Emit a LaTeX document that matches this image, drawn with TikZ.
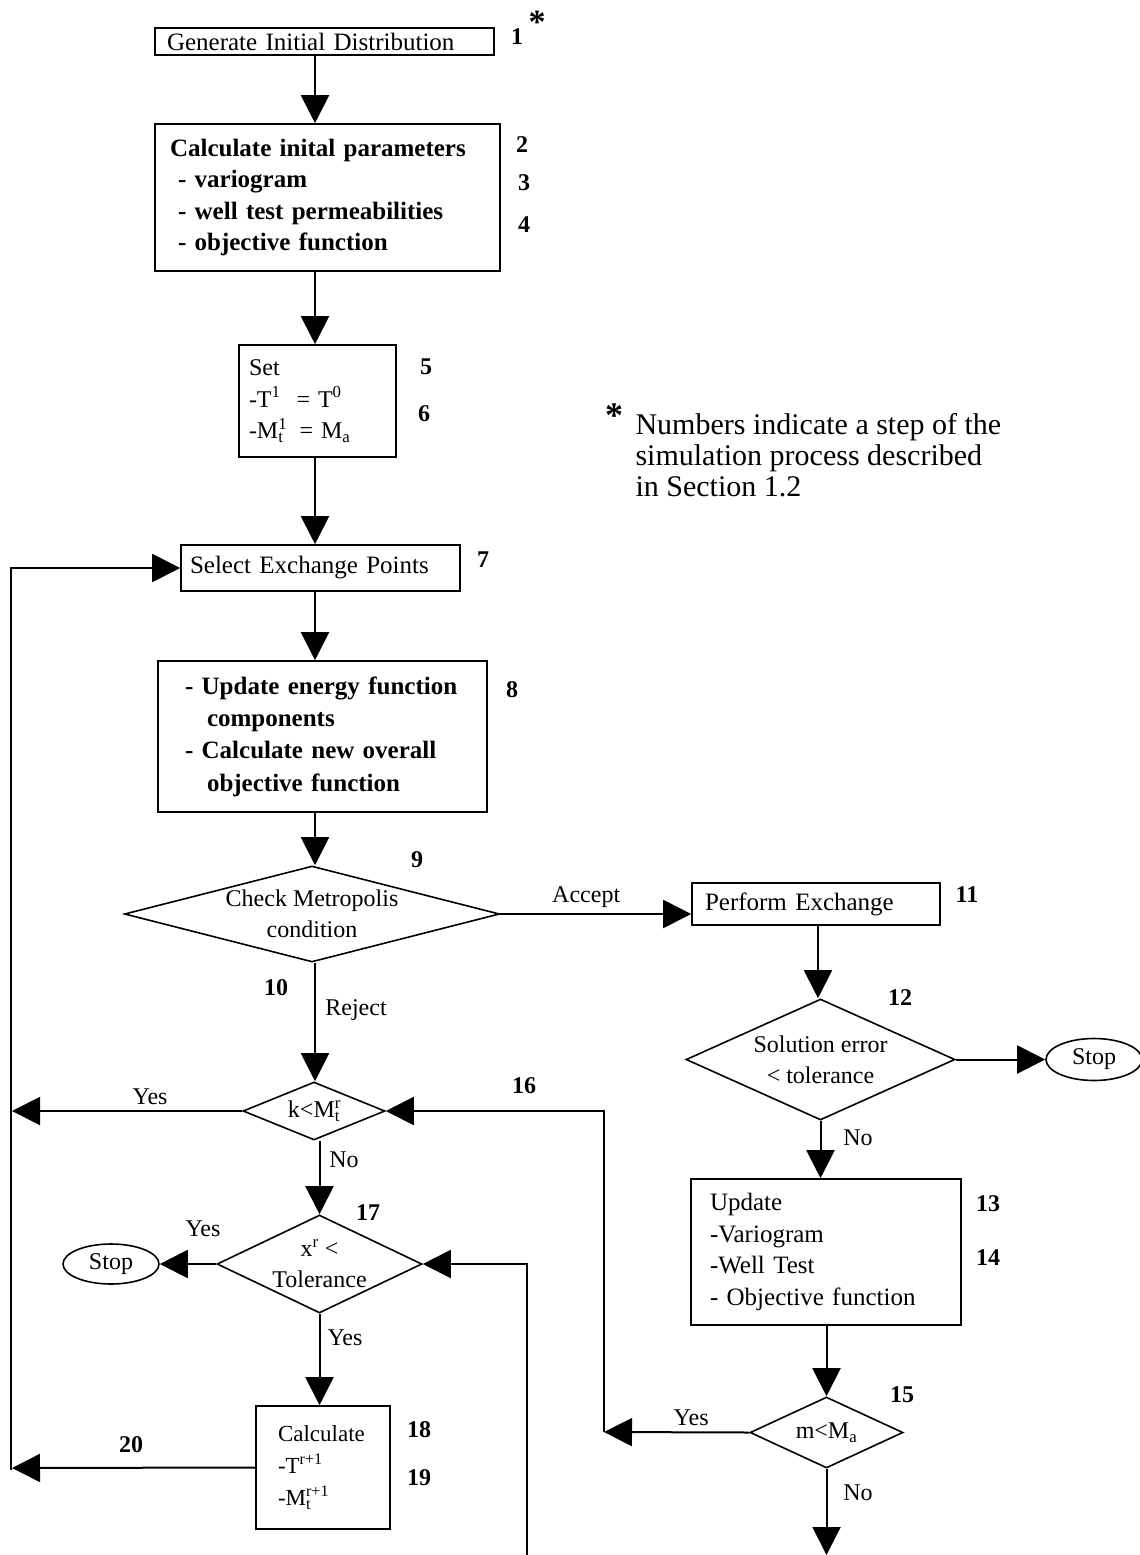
\documentclass[tikz,border=0pt]{standalone}
\usepackage{fontspec}
\setmainfont{Liberation Serif}
\usetikzlibrary{shapes.geometric,arrows.meta}
\newcommand\SupSub[2]{\rlap{\textsuperscript{#1}}\textsubscript{#2}}
\begin{document}
\begin{tikzpicture}[x=1pt,y=-1pt,
 every node/.style={font=\fontsize{25}{31}\selectfont},
 box/.style={draw,line width=1.6pt,rectangle,align=left,inner ysep=0pt},
 dia/.style={draw,line width=1.6pt,diamond,inner sep=0pt},
 oval/.style={draw,line width=1.6pt,ellipse,inner sep=0pt,font=\fontsize{24}{28}\selectfont},
 arr/.style={line width=2pt,-{Triangle[length=28pt,width=28pt]}},
 ln/.style={line width=2pt},
 num/.style={font=\fontsize{24}{28}\selectfont\bfseries},
 lab/.style={font=\fontsize{24}{28}\selectfont},
 dlab/.style={align=center,font=\fontsize{24}{31}\selectfont},
]
\useasboundingbox (0,0) rectangle (1140,1555);
% boxes
\node[box,text width=315pt,inner xsep=12pt,minimum height=27pt] (b1) at (324.5,41.5) {Generate Initial Distribution};
\node[box,text width=315pt,inner xsep=15pt,minimum height=147pt,font=\fontsize{25}{31.5}\selectfont\bfseries] (b2) at (327.5,197.5)
 {Calculate inital parameters\\\hspace*{8pt}- variogram\\\hspace*{8pt}- well test permeabilities\\\hspace*{8pt}- objective function};
\node[box,text width=137pt,inner xsep=10pt,minimum height=112pt,font=\fontsize{24}{31.5}\selectfont] (b5) at (317.5,401)
 {Set\\-T\textsuperscript{1}\ \ = T\textsuperscript{0}\\-M\SupSub{1}{t}\ \ = M\textsubscript{a}};
\node[box,text width=261pt,inner xsep=9pt,minimum height=46pt] (b7) at (320.5,568) {Select Exchange Points};
\node[box,text width=275pt,inner xsep=27pt,minimum height=151pt,font=\fontsize{25}{32.3}\selectfont\bfseries] (b8) at (322.5,736.5)
 {- Update energy function\\\hspace*{22pt}components\\- Calculate new overall\\\hspace*{22pt}objective function};
\node[box,text width=222pt,inner xsep=13pt,minimum height=42pt] (b11) at (816,904) {Perform Exchange};
\node[box,text width=232pt,inner xsep=19pt,minimum height=146pt,font=\fontsize{25}{31.5}\selectfont] (b13) at (826,1252)
 {Update\\-Variogram\\-Well Test\\- Objective function};
\node[box,text width=90pt,inner xsep=22pt,minimum height=123pt,font=\fontsize{23}{32}\selectfont] (b18) at (323,1467.5)
 {Calculate\\-T\textsuperscript{r+1}\\-M\SupSub{r+1}{t}};
% diamonds
\node[dia,minimum width=375pt,minimum height=96pt,label={[dlab]center:{Check Metropolis\\condition}}] (d9) at (312,914) {};
\node[dia,minimum width=269pt,minimum height=121pt,label={[dlab]center:{Solution error\\\textless{} tolerance}}] (d12) at (820.5,1059.5) {};
\node[dia,minimum width=153pt,minimum height=71pt,label={[dlab]center:{m\textless M\textsubscript{a}}}] (d15) at (826.5,1432.5) {};
\node[dia,minimum width=142pt,minimum height=58pt,label={[dlab]center:{k\textless M\SupSub{r}{t}}}] (d16) at (314,1111) {};
\node[dia,minimum width=205pt,minimum height=98pt,label={[dlab]center:{x\textsuperscript{r} \textless\\Tolerance}}] (d17) at (319.5,1264) {};
% stops
\node[oval,minimum width=96pt,minimum height=42pt] (stopR) at (1094,1059.5) {Stop};
\node[oval,minimum width=96pt,minimum height=40pt] (stopL) at (111,1264) {Stop};
% coordinates
\coordinate (sp) at (315,0);
\coordinate (sr) at (818,0);
\coordinate (L16) at (12,1111);
\coordinate (L20) at (12,1468);
\coordinate (Lbot) at (11,1470);
\coordinate (c16) at (604,1432);
\coordinate (c17) at (527,1555);
\coordinate (bot) at (826.5,1555);
% connectors
\draw[arr] (b1.south -| sp) -- (b2.north -| sp);
\draw[arr] (b2.south -| sp) -- (b5.north -| sp);
\draw[arr] (b5.south -| sp) -- (b7.north -| sp);
\draw[arr] (b7.south -| sp) -- (b8.north -| sp);
\draw[arr] (b8.south -| sp) -- (d9.north -| sp);
\draw[arr] (d9.east) -- node[lab,above,pos=0.45,yshift=2pt]{Accept} (b11.west |- d9.east);
\draw[arr] (b11.south -| sr) -- (d12.north -| sr);
\draw[arr] (d12.east) -- (stopR.west);
\draw[arr] (d12.south) -- (b13.north -| d12.south);
\draw[arr] (b13.south -| d15.north) -- (d15.north);
\draw[arr] (d15.west) -- node[lab,above,pos=0.4,yshift=2pt]{Yes} (c16);
\draw[arr] (c16) |- (d16.east);
\draw[arr] (d15.south) -- (bot);
\draw[arr] (d9.south -| sp) -- (d16.north -| sp);
\draw[arr] (d16.west) -- node[lab,above,pos=0.4,yshift=2pt]{Yes} (L16);
\draw[arr] (d16.south -| d17.north) -- (d17.north);
\draw[arr] (d17.west) -- (stopL.east);
\draw[arr] (c17) |- (d17.east);
\draw[arr] (d17.south) -- (b18.north -| d17.south);
\draw[arr] (b18.west) -- (L20);
\draw[arr] (Lbot) |- (b7.west);
% step numbers
\node[num] (n1) at (517,37) {1};
\node[font=\fontsize{34}{34}\selectfont\bfseries] (s1) at (537,22) {*};
\node[num] (n2) at (522,145) {2};
\node[num] (n3) at (524,183) {3};
\node[num] (n4) at (524,225) {4};
\node[num] (n5) at (426,367) {5};
\node[num] (n6) at (424,414) {6};
\node[num] (n7) at (483,560) {7};
\node[num] (n8) at (512,690) {8};
\node[num] (n9) at (417,860) {9};
\node[num] (n10) at (276,988) {10};
\node[num] (n11) at (967,895) {11};
\node[num] (n12) at (900,998) {12};
\node[num] (n13) at (988,1204) {13};
\node[num] (n14) at (988,1258) {14};
\node[num] (n15) at (902,1395) {15};
\node[num] (n16) at (524,1086) {16};
\node[num] (n17) at (368,1213) {17};
\node[num] (n18) at (419,1430) {18};
\node[num] (n19) at (419,1478) {19};
\node[num] (n20) at (131,1445) {20};
% branch labels
\node[lab] (lrej) at (356,1010) {Reject};
\node[lab] (lno12) at (858,1138) {No};
\node[lab] (lno16) at (344,1160) {No};
\node[lab] (lyes17) at (203,1229) {Yes};
\node[lab] (lyes17b) at (345,1338) {Yes};
\node[lab] (lno15) at (858,1493) {No};
% note
\node[font=\fontsize{36}{36}\selectfont\bfseries] (star) at (614,416) {*};
\node[anchor=north west,align=left,font=\fontsize{30}{31}\selectfont] (note) at (632,410)
 {Numbers indicate a step of the\\simulation process described\\in Section 1.2};
\end{tikzpicture}
\end{document}
